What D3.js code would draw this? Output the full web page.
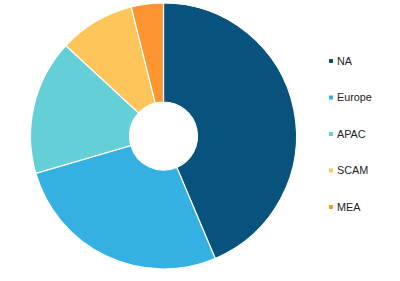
<!DOCTYPE html>
<html>
<head>
<meta charset="utf-8">
<script src="https://cdn.jsdelivr.net/npm/d3@7"></script>
<style>
  body { margin: 0; background: #fff; }
  svg { display: block; }
</style>
</head>
<body>
<svg id="chart" width="400" height="281"></svg>
<script>
// regions and their share
var regions = ["NA", "Europe", "APAC", "SCAM", "MEA"];
var shares = [43.6, 26.8, 16.4, 9.2, 3.9];
var colors = ["#08527e", "#35b0e2", "#65cfd8", "#fec55b", "#fd9530"];

var svg = d3.select("#chart");
var cx = 163.5, cy = 136, outerR = 133, innerR = 34;

var color = d3.scaleOrdinal().domain(regions).range(colors);

var pie = d3.pie().sort(null).value((d, i) => shares[i]);
var arc = d3.arc().innerRadius(innerR).outerRadius(outerR);

var g = svg.append("g").attr("transform", "translate(" + cx + "," + cy + ")");

g.selectAll("path")
    .data(pie(regions))
    .enter().append("path")
        .attr("d", arc)
        .attr("fill", d => color(d.data))
        .attr("stroke", "#fff")
        .attr("stroke-width", 1.2);

// legend
var legendY = d3.scalePoint().domain(regions).range([61, 207]);

var legend = svg.append("g").selectAll("g")
    .data(regions)
    .enter().append("g")
        .attr("transform", d => "translate(329," + legendY(d) + ")");

legend.append("rect")
        .attr("x", 0)
        .attr("y", -2)
        .attr("width", 4)
        .attr("height", 4)
        .attr("fill", d => color(d));

legend.append("text")
        .attr("x", 8)
        .attr("y", 0)
        .attr("dy", "0.35em")
        .attr("font-family", "Liberation Sans, Arial, sans-serif")
        .attr("font-size", 10.8)
        .attr("fill", "#222")
        .text(d => d);
</script>
</body>
</html>
